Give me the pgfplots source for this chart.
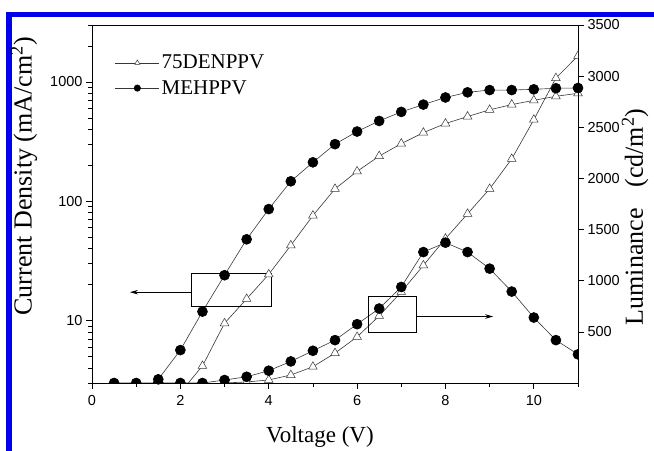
\documentclass[border=0pt]{standalone}
\usepackage{pgfplots}
\pgfplotsset{compat=1.18}
\usepackage{fontspec}
\setmainfont{Liberation Serif}
\newfontfamily\tickfont{Liberation Sans}
\usetikzlibrary{arrows.meta}

\definecolor{bordercol}{RGB}{0,0,235}
\definecolor{ln}{RGB}{55,55,55}

\pgfplotsset{
  mystyle/.style={
    scale only axis, width=486bp, height=358bp,
    at={(92bp,68bp)}, anchor=south west,
    xmin=0, xmax=11,
    tick align=outside,
    major tick length=6bp, minor tick length=4bp,
    tick style={black, line width=0.7bp},
    axis line style={line width=0.9bp},
    /pgf/number format/assume math mode=true,
    /pgf/number format/1000 sep={},
    tick label style={font=\tickfont\fontsize{14.5bp}{17bp}\selectfont},
  }
}

\begin{document}
\begin{tikzpicture}
\useasboundingbox (0,0) rectangle (654bp,451bp);
\fill[bordercol] (6bp,0) rectangle (12bp,439bp);
\fill[bordercol] (6bp,434bp) rectangle (654bp,439bp);

\begin{axis}[mystyle,
  ymode=log, ymin=3, ymax=3000,
  xtick={0,2,...,10}, minor xtick={1,3,...,11}, xtick pos=left,
  ytick={10,100,1000}, yticklabels={10,100,1000},
  minor ytick={3,4,5,6,7,8,9,20,30,40,50,60,70,80,90,200,300,400,500,600,700,800,900,2000,3000},
  ytick pos=left,
  xticklabel style={yshift=-3bp},
  xlabel={Voltage (V)},
  ylabel={Current Density (mA/cm\textsuperscript{2})},
  every axis x label/.style={at={([yshift=-54bp]rel axis cs:0.469,0)}, anchor=center, font=\fontsize{23bp}{27bp}\selectfont},
  every axis y label/.style={at={([xshift=-68bp]rel axis cs:0,0.577)}, rotate=90, anchor=center, font=\fontsize{26bp}{30bp}\selectfont},
  legend style={draw=none, fill=none, at={(rel axis cs:0.047,0.859)}, anchor=west,
    font=\fontsize{21bp}{24bp}\selectfont, row sep=6bp, inner sep=0pt},
  legend cell align=left,
  legend image code/.code={\draw[mark repeat=2,mark phase=2] plot coordinates {(0bp,0bp) (22bp,0bp) (44bp,0bp)};},
]
% 75DENPPV current density
\addplot[ln, line width=0.6bp, mark=triangle*, mark size=5bp, mark options={fill=white, draw=ln, line width=0.5bp}, forget plot]
coordinates {(2,2.5) (2.5,4.17) (3,9.5) (3.5,15.2) (4,24.4) (4.5,42.7) (5,75.9) (5.5,127) (6,178) (6.5,239) (7,304) (7.5,376) (8,448) (8.5,513) (9,584) (9.5,646) (10,701) (10.5,758) (11,803)};
% MEHPPV current density
\addplot[ln, line width=0.6bp, mark=*, mark size=5bp, mark options={fill=black, draw=black}, forget plot]
coordinates {(1.5,3.22) (2,5.66) (2.5,11.9) (3,24) (3.5,48) (4,86) (4.5,147) (5,212) (5.5,301) (6,384) (6.5,471) (7,561) (7.5,646) (8,741) (8.5,818) (9,855) (9.5,855) (10,867) (10.5,885) (11,890)};

\addlegendimage{ln, line width=0.6bp, mark=triangle*, mark size=3bp, mark options={fill=white, draw=ln, line width=0.5bp}}
\addlegendentry{75DENPPV}
\addlegendimage{ln, line width=0.6bp, mark=*, mark size=3.2bp, mark options={fill=black, draw=black}}
\addlegendentry{MEHPPV}

\draw[line width=0.8bp] (axis cs:2.24,13.1) rectangle (axis cs:4.05,24.8);
\draw[line width=0.7bp, -{Stealth[length=8bp,width=4.5bp]}] (axis cs:2.24,17.3) -- (axis cs:0.86,17.3);
\end{axis}

\begin{axis}[mystyle,
  ymin=0, ymax=3500,
  axis y line*=right, axis x line=none,
  ytick={500,1000,...,3500},
  clip marker paths=true,
  ylabel={Luminance\hspace{0.8em}(cd/m\textsuperscript{2})},
  every axis y label/.style={at={([xshift=57bp]rel axis cs:1,0.464)}, rotate=90, anchor=center, font=\fontsize{26bp}{30bp}\selectfont},
]
% 75DENPPV luminance
\addplot[ln, line width=0.6bp, mark=triangle*, mark size=5bp, mark options={fill=white, draw=ln, line width=0.5bp}]
coordinates {(3,0) (3.5,10) (4,30) (4.5,78) (5,159) (5.5,292) (6,451) (6.5,656) (7,890) (7.5,1150) (8,1411) (8.5,1654) (9,1898) (9.5,2191) (10,2574) (10.5,2981) (11,3198)};
% MEHPPV luminance
\addplot[ln, line width=0.6bp, mark=*, mark size=5bp, mark options={fill=black, draw=black}]
coordinates {(0.5,0) (1,0) (1.5,0) (2,0) (2.5,0) (3,29) (3.5,61) (4,120) (4.5,211) (5,315) (5.5,419) (6,575) (6.5,728) (7,939) (7.5,1280) (8,1372) (8.5,1280) (9,1118) (9.5,894) (10,640) (10.5,419) (11,280)};

\draw[line width=0.8bp] (axis cs:6.25,497) rectangle (axis cs:7.34,845);
\draw[line width=0.7bp, -{Stealth[length=8bp,width=4.5bp]}] (axis cs:7.34,650) -- (axis cs:9.08,650);
\end{axis}
\end{tikzpicture}
\end{document}
